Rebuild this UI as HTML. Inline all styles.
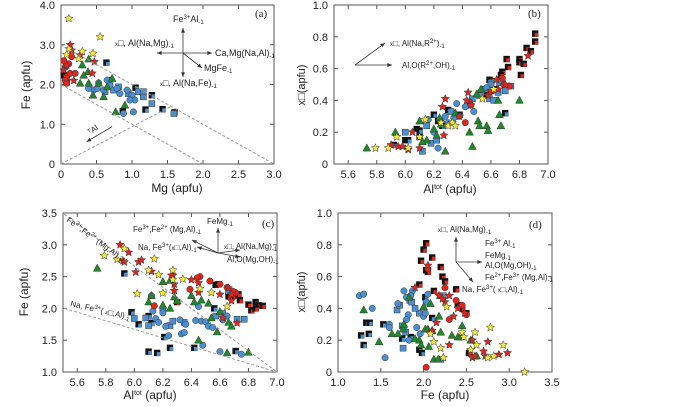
<!DOCTYPE html>
<html><head><meta charset="utf-8"><style>
body{margin:0;background:#fff;width:700px;height:402px;overflow:hidden}
svg{font-family:"Liberation Sans",sans-serif}
</style></head><body>
<svg id="c" width="700" height="402"></svg>
<script>
// ---------- DATA (panel a: Mg vs Fe) ----------
const aYellowStar=[[0.11,3.66],[0.55,3.2],[0.11,2.9],[0.08,2.75],[0.3,2.83],[0.45,2.78],[0.25,2.65]];
const aRedStar=[[0.13,3.0],[0.15,2.86],[0.27,2.74],[0.47,2.57],[0.04,2.36],[0.44,2.28],[0.18,2.1],[0.08,2.48]];
const aRedCircle=[[0.06,2.44],[0.11,2.52],[0.08,2.19],[0.06,2.1],[0.13,2.28],[0.15,2.7],[0.04,2.6],[0.08,2.03],[0.2,2.28]];
const aGreen=[[0.39,2.64],[0.3,2.49],[0.38,2.32],[0.27,2.03],[0.39,2.03],[0.45,1.73],[0.6,1.69],[0.72,2.15],[0.65,1.94],[0.77,1.31],[0.9,1.48],[0.53,2.03],[0.32,2.23]];
const aBlueCircle=[[0.53,2.04],[0.46,1.86],[0.39,1.9],[0.6,1.86],[0.69,1.98],[0.79,1.9],[0.93,1.86],[1.0,1.73],[1.04,1.61],[0.97,1.61],[1.02,1.31],[0.88,1.27],[0.83,1.77],[0.65,2.11],[0.51,1.9]];
const aBlueSquare=[[0.62,1.82],[0.74,1.86],[0.81,1.94],[0.95,1.77],[1.09,1.82],[1.16,1.69],[1.28,1.52],[1.59,1.27],[1.16,1.82]];
const aBlackBlue=[[0.64,2.55],[0.69,2.11],[1.05,1.92],[1.28,1.73],[1.19,1.37],[1.43,1.38],[1.6,1.3],[0.87,1.33],[0.04,2.23],[0.08,2.05]];
// ---------- panel b: Al tot vs xVac ----------
const bGreen=[[5.73,.1],[5.93,.2],[6.1,.27],[6.15,.15],[6.2,.22],[6.22,.18],[6.25,.25],[6.28,.08],[6.35,.32],[6.45,.2],[6.47,.11],[6.5,.44],[6.51,.27],[6.52,.24],[6.57,.24],[6.58,.21],[6.65,.4],[6.66,.31],[6.67,.24],[6.8,.4],[6.53,.47],[6.12,.14],[6.24,.29]];
const bYellowStar=[[5.79,.1],[5.88,.1],[5.94,.17],[6.02,.1],[6.1,.17],[6.14,.28],[6.25,.26],[6.3,.24],[6.33,.26],[6.35,.24],[6.54,.41],[6.62,.47]];
const bRedStar=[[5.9,.12],[5.95,.11],[5.98,.11],[6.02,.09],[6.05,.2],[6.1,.1],[6.26,.36],[6.28,.41],[6.27,.18],[6.44,.45],[6.43,.4],[6.46,.37],[6.58,.43],[6.64,.53],[6.7,.5],[6.86,.68],[6.65,.47],[6.38,.3],[6.6,.46]];
const bRedCircle=[[6.42,.26],[6.45,.39],[6.68,.54],[6.69,.5],[6.73,.49],[6.61,.46]];
const bBlueCircle=[[6.16,.28],[6.23,.1],[6.25,.27],[6.28,.3],[6.3,.26],[6.34,.29],[6.36,.38],[6.42,.36],[6.46,.37],[6.48,.33],[6.38,.3],[6.2,.2],[6.6,.5],[6.57,.48]];
const bBlueSquare=[[6.0,.2],[6.12,.08],[6.15,.24],[6.18,.13],[6.22,.15],[6.32,.33],[6.47,.41],[6.52,.43],[6.56,.47],[6.59,.41],[6.62,.4],[6.65,.45],[6.7,.46],[6.74,.49],[6.66,.51],[6.6,.51]];
const bBlackRed=[[6.68,.58],[6.72,.61],[6.71,.66],[6.8,.66],[6.8,.64],[6.83,.63],[6.81,.56],[6.85,.73],[6.88,.71],[6.91,.82],[6.91,.77],[6.59,.53],[6.67,.56],[6.63,.47]];
const bBlackBlue=[[5.92,.12],[6.0,.15],[6.02,.15],[6.08,.22],[6.1,.21],[6.1,.17],[6.2,.31],[6.23,.27],[6.26,.24],[6.3,.34],[6.38,.31],[6.55,.47],[6.57,.44],[6.7,.32]];
// ---------- panel c: Al tot vs Fe ----------
const cYellowStar=[[5.79,2.83],[5.88,2.77],[5.93,2.94],[6.02,2.23],[6.1,2.6],[6.14,2.78],[6.17,2.53],[6.2,2.24],[6.27,2.6],[6.27,2.45],[6.34,2.46],[6.54,2.25],[6.65,2.03],[6.46,2.31]];
const cRedStar=[[5.9,3.0],[5.96,2.88],[5.92,2.75],[5.93,2.73],[6.01,2.57],[6.03,2.73],[6.05,2.76],[6.12,2.58],[6.27,2.52],[6.28,2.38],[6.28,2.28],[6.4,2.45],[6.45,2.25],[6.45,2.4],[6.6,2.22],[6.62,1.85],[6.68,2.12],[6.72,1.77],[6.66,2.32],[6.68,2.22],[6.26,2.52]];
const cRedCircle=[[6.46,2.5],[6.44,2.48],[6.53,2.43],[6.39,2.3],[6.65,2.33],[6.71,2.25],[6.69,2.27],[6.14,2.04],[6.6,2.38]];
const cGreen=[[5.74,2.63],[6.12,2.2],[6.1,2.1],[6.2,2.05],[6.2,2.42],[6.25,2.44],[6.28,2.18],[6.3,2.12],[6.4,2.2],[6.42,2.1],[6.47,2.13],[6.52,2.08],[6.54,1.85],[6.58,1.63],[6.6,1.95],[6.66,1.78],[6.45,1.5],[6.65,1.3],[6.8,1.31],[6.68,1.72],[6.25,2.0]];
const cBlueCircle=[[6.12,2.2],[6.13,1.96],[6.15,1.84],[6.17,1.78],[6.2,1.93],[6.22,1.72],[6.24,1.57],[6.32,1.82],[6.33,1.6],[6.35,1.62],[6.36,1.75],[6.43,1.81],[6.47,1.8],[6.5,1.79],[6.48,1.42],[6.52,1.72],[6.55,1.7],[6.62,1.82],[6.6,1.32],[6.65,1.88],[6.75,1.28],[6.45,2.03]];
const cBlueSquare=[[6.0,1.84],[6.08,1.85],[6.1,1.73],[6.25,1.73],[6.27,1.8],[6.35,1.78],[6.62,1.92],[6.66,2.27],[6.72,1.83],[6.77,1.83],[6.2,1.97],[6.57,1.88]];
const cBlackBlue=[[5.93,2.55],[5.98,1.94],[6.03,1.75],[6.1,1.88],[6.12,1.77],[6.16,1.3],[6.21,1.55],[6.25,1.38],[6.1,1.32],[6.42,1.38],[6.71,1.33],[6.56,2.0]];
const cBlackRed=[[6.57,2.37],[6.59,2.38],[6.66,2.19],[6.7,2.2],[6.73,2.22],[6.74,2.13],[6.8,2.06],[6.82,1.97],[6.85,2.1],[6.87,2.05],[6.9,2.04],[6.85,2.0],[6.3,2.1]];
// ---------- panel d: Fe vs xVac ----------
const dBlueCircle=[[1.25,.48],[1.3,.49],[1.4,.4],[1.55,.09],[1.6,.3],[1.6,.28],[1.7,.43],[1.77,.51],[1.8,.47],[1.82,.36],[1.8,.33],[1.83,.2],[1.87,.51],[1.92,.28],[1.96,.24],[2.0,.35],[2.02,.37],[2.03,.44],[2.05,.49],[1.85,.48]];
const dBlueSquare=[[1.69,.39],[1.72,.42],[1.75,.29],[1.77,.27],[1.79,.25],[1.84,.45],[1.86,.44],[1.95,.37],[2.2,.08],[2.23,.48],[1.9,.4],[1.76,.15]];
const dBlackBlue=[[1.27,.23],[1.3,.17],[1.33,.31],[1.37,.31],[1.36,.24],[1.53,.3],[1.75,.21],[1.95,.14],[1.98,.12],[2.02,.47],[2.1,.34],[1.85,.22]];
const dGreen=[[1.3,.39],[1.48,.19],[1.63,.24],[1.7,.24],[1.76,.27],[1.77,.3],[1.83,.47],[1.9,.21],[1.95,.2],[1.97,.17],[2.0,.41],[2.02,.27],[2.05,.27],[2.06,.16],[2.08,.43],[2.1,.26],[2.12,.08],[2.18,.35],[2.2,.25],[2.33,.23],[2.4,.22],[2.45,.29],[2.43,.22],[2.55,.2],[2.62,.1],[2.17,.08]];
const dRedStar=[[1.9,.53],[2.05,.67],[2.1,.26],[2.18,.48],[2.15,.31],[2.25,.44],[2.3,.48],[2.3,.17],[2.35,.35],[2.4,.4],[2.48,.37],[2.57,.2],[2.57,.09],[2.6,.1],[2.7,.13],[2.72,.1],[2.75,.19],[2.88,.11],[2.98,.12],[2.22,.46]];
const dRedCircle=[[2.03,.03],[2.05,.65],[2.25,.53],[2.3,.33],[2.45,.42],[2.5,.36],[2.38,.45],[2.08,.25]];
const dYellowStar=[[2.08,.24],[2.12,.19],[2.2,.15],[2.23,.09],[2.27,.41],[2.45,.25],[2.47,.22],[2.55,.14],[2.6,.25],[2.62,.17],[2.75,.09],[2.78,.28],[2.82,.1],[2.93,.17],[3.18,0]];
const dBlackRed=[[1.95,.55],[1.97,.7],[2.0,.77],[2.03,.81],[2.03,.64],[2.05,.63],[2.1,.72],[2.12,.51],[2.2,.66],[2.22,.6],[2.2,.48],[2.38,.52],[2.4,.42],[2.45,.4],[2.5,.37],[2.53,.12],[2.25,.57]];
// ticks
const aXTicks=["0","0.5","1.0","1.5","2.0","2.5","3.0"], aYTicks=["0","1.0","2.0","3.0","4.0"];
const bXTicks=["5.6","5.8","6.0","6.2","6.4","6.6","6.8","7.0"], bYTicks=["0","0.2","0.4","0.6","0.8","1.0"];
const cXTicks=bXTicks, cYTicks=["1.0","1.5","2.0","2.5","3.0","3.5"];
const dXTicks=["1.0","1.5","2.0","2.5","3.0","3.5"], dYTicks=bYTicks;

const NS="http://www.w3.org/2000/svg", svg=document.getElementById('c');
function el(t,a,p){const e=document.createElementNS(NS,t);for(const k in a)e.setAttribute(k,a[k]);(p||svg).appendChild(e);return e;}
const COL={blue:"#4a8fd0",red:"#e0261e",yellow:"#f6e83a",green:"#21882a"};
function panel(name,L,R,T,B,x0,x1,y0,y1,xt,yt){
  const g=el('g',{});
  
  
  const sx=v=>L+(v-x0)/(x1-x0)*(R-L), sy=v=>B-(v-y0)/(y1-y0)*(B-T);
  const fr=el('rect',{x:L,y:T,width:R-L,height:B-T,fill:'none',stroke:'#555','stroke-width':1},g);
  
  
  xt.forEach(t=>{const v=+t,x=sx(v);
    el('line',{x1:x,x2:x,y1:B,y2:B-4,stroke:'#555'},g);el('line',{x1:x,x2:x,y1:T,y2:T+4,stroke:'#555'},g);
    const tx=el('text',{x:x,y:B+14,'font-size':11,'text-anchor':'middle',fill:'#222'},g);tx.textContent=t;
    
    });
  yt.forEach(t=>{const v=+t,y=sy(v);
    el('line',{x1:L,x2:L+4,y1:y,y2:y,stroke:'#555'},g);el('line',{x1:R,x2:R-4,y1:y,y2:y,stroke:'#555'},g);
    const tx=el('text',{x:L-6,y:y+4,'font-size':11,'text-anchor':'end',fill:'#222'},g);tx.textContent=t;
    
    });
  return {g,sx,sy};
}
function star(cx,cy,r){let p=[];for(let i=0;i<10;i++){const a=-Math.PI/2+i*Math.PI/5,rr=i%2?r*0.45:r;p.push((cx+rr*Math.cos(a)).toFixed(1)+','+(cy+rr*Math.sin(a)).toFixed(1));}return p.join(' ');}
function series(P,data,type,col,nm){
  data.forEach(d=>{const x=P.sx(d[0]),y=P.sy(d[1]);let m;
    if(type==='circle')m=el('circle',{cx:x,cy:y,r:3.2,fill:COL[col],stroke:'#333','stroke-width':0.5},P.g);
    else if(type==='square')m=el('rect',{x:x-3,y:y-3,width:6,height:6,fill:COL[col],stroke:'#333','stroke-width':0.5},P.g);
    else if(type==='tri')m=el('polygon',{points:`${x},${y-4.2} ${x-3.9},${y+3} ${x+3.9},${y+3}`,fill:COL[col],stroke:'#333','stroke-width':0.5},P.g);
    else if(type==='star')m=el('polygon',{points:star(x,y,4.3),fill:COL[col],stroke:'#333','stroke-width':0.5},P.g);
    else {m=el('g',{},P.g);el('rect',{x:x-3.2,y:y-3.2,width:6.4,height:6.4,fill:'#111'},m);el('rect',{x:x-0.4,y:y-0.8,width:3.4,height:3.8,fill:COL[col]},m);}
    
    });
}
function txt(x,y,s,sz,attrs,nm){const t=el('text',Object.assign({x:x,y:y,'font-size':sz||9,fill:'#222'},attrs||{}));t.innerHTML=s;
  
  return t;}
function arrow(x1,y1,x2,y2,dash){const l=el('line',{x1,y1,x2,y2,stroke:dash?'#999':'#333','stroke-width':dash?1:0.8,'stroke-dasharray':dash?'3,2':'none'});
  
  
  if(!dash){const a=Math.atan2(y2-y1,x2-x1),h=5;el('polygon',{points:`${x2},${y2} ${x2-h*Math.cos(a-0.4)},${y2-h*Math.sin(a-0.4)} ${x2-h*Math.cos(a+0.4)},${y2-h*Math.sin(a+0.4)}`,fill:'#333'});}}
function allSeries(P,s){
  if(s.blackBlue)series(P,s.blackBlue,'bk','blue','black-blue-square');
  if(s.blackRed)series(P,s.blackRed,'bk','red','black-red-square');
  if(s.blueSquare)series(P,s.blueSquare,'square','blue','blue-square');
  if(s.blueCircle)series(P,s.blueCircle,'circle','blue','blue-circle');
  if(s.green)series(P,s.green,'tri','green','green-triangle');
  if(s.redCircle)series(P,s.redCircle,'circle','red','red-circle');
  if(s.redStar)series(P,s.redStar,'star','red','red-star');
  if(s.yellowStar)series(P,s.yellowStar,'star','yellow','yellow-star');
}
// Panel a
const A=panel('panel-a',61,274,5,164,0,3,0,4,aXTicks,aYTicks);
arrow(A.sx(0),A.sy(3),A.sx(3),A.sy(0),1);arrow(A.sx(0),A.sy(2),A.sx(2),A.sy(0),1);arrow(A.sx(0),A.sy(0),A.sx(1.55),A.sy(1.45),1);
arrow(A.sx(0.72),A.sy(0.94),A.sx(0.36),A.sy(0.56));
txt(90,135,'ᵀAl',8,{transform:'rotate(-35 90 135)'});
allSeries(A,{blackBlue:aBlackBlue,blueSquare:aBlueSquare,blueCircle:aBlueCircle,green:aGreen,redCircle:aRedCircle,redStar:aRedStar,yellowStar:aYellowStar});
arrow(183,53,183,28);arrow(183,53,183,77);arrow(183,53,157,53);arrow(183,53,212,53);arrow(183,53,202,68);
txt(173,22,'Fe<tspan font-size="6" dy="-3">3+</tspan><tspan dy="3">Al</tspan><tspan font-size="6" dy="2">-1</tspan>',9);
txt(115,46,'<tspan font-size="6">x</tspan>□, Al(Na,Mg)<tspan font-size="6" dy="2">-1</tspan>',9);
txt(215,56,'Ca,Mg(Na,Al)<tspan font-size="6" dy="2">-1</tspan>',9);
txt(204,71,'MgFe<tspan font-size="6" dy="2">-1</tspan>',9);
txt(160,86,'<tspan font-size="6">x</tspan>□, Al(Na,Fe)<tspan font-size="6" dy="2">-1</tspan>',9);
txt(255,17,'(a)',11,{'font-family':'Liberation Serif'},'panel-label');
txt(177,192,'Mg (apfu)',12,{'text-anchor':'middle'},'x-axis-title');
txt(30,85,'Fe (apfu)',12,{'text-anchor':'middle',transform:'rotate(-90 30 85)'},'y-axis-title');
// Panel b
const Bp=panel('panel-b',334,548,5,164,5.5,7.0,0,1,bXTicks,bYTicks);
allSeries(Bp,{blackBlue:bBlackBlue,blackRed:bBlackRed,blueSquare:bBlueSquare,blueCircle:bBlueCircle,green:bGreen,redCircle:bRedCircle,redStar:bRedStar,yellowStar:bYellowStar});
arrow(355,65,385,43);arrow(355,65,392,65);
txt(390,46,'<tspan font-size="6">x</tspan>□, Al(Na,R<tspan font-size="6" dy="-3">2+</tspan><tspan dy="3">)</tspan><tspan font-size="6" dy="2">-1</tspan>',8);
txt(402,68,'Al,O(R<tspan font-size="6" dy="-3">2+</tspan><tspan dy="3">,OH)</tspan><tspan font-size="6" dy="2">-1</tspan>',8);
txt(528,17,'(b)',11,{'font-family':'Liberation Serif'},'panel-label');
txt(450,193,'Al<tspan font-size="7" dy="-4">tot</tspan><tspan dy="4"> (apfu)</tspan>',12,{'text-anchor':'middle'},'x-axis-title');
txt(305,85,'x□(apfu)',11,{'text-anchor':'middle',transform:'rotate(-90 305 85)'},'y-axis-title');
// Panel c
const Cp=panel('panel-c',63,277,213,372,5.5,7.0,1.0,3.5,cXTicks,cYTicks);
arrow(Cp.sx(5.51),Cp.sy(3.48),Cp.sx(7.0),Cp.sy(1.0),1);arrow(Cp.sx(5.51),Cp.sy(2.0),Cp.sx(7.0),Cp.sy(1.0),1);
txt(66,221,'Fe<tspan font-size="6" dy="-3">3+</tspan><tspan dy="3">,Fe</tspan><tspan font-size="6" dy="-3">2+</tspan><tspan dy="3"> (Mg,Al)</tspan><tspan font-size="6" dy="2">-1</tspan>',8,{transform:'rotate(36 66 221)'});
txt(70,306,'Na, Fe<tspan font-size="6" dy="-3">3+</tspan><tspan dy="3">( </tspan><tspan font-size="6">x</tspan>□,Al)<tspan font-size="6" dy="2">-1</tspan>',8,{transform:'rotate(13 70 306)'});
allSeries(Cp,{blackBlue:cBlackBlue,blackRed:cBlackRed,blueSquare:cBlueSquare,blueCircle:cBlueCircle,green:cGreen,redCircle:cRedCircle,redStar:cRedStar,yellowStar:cYellowStar});
arrow(218,253,218,228);arrow(218,253,192,240);arrow(218,253,197,247);arrow(218,253,240,250);arrow(218,253,240,257);
txt(207,224,'FeMg<tspan font-size="6" dy="2">-1</tspan>',8);
txt(133,232,'Fe<tspan font-size="6" dy="-3">3+</tspan><tspan dy="3">,Fe</tspan><tspan font-size="6" dy="-3">2+</tspan><tspan dy="3"> (Mg,Al)</tspan><tspan font-size="6" dy="2">-1</tspan>',8);
txt(138,250,'Na, Fe<tspan font-size="6" dy="-3">3+</tspan><tspan dy="3">(</tspan><tspan font-size="6">x</tspan>□,Al)<tspan font-size="6" dy="2">-1</tspan>',8);
txt(224,249,'<tspan font-size="6">x</tspan>□, Al(Na,Mg)<tspan font-size="6" dy="2">-1</tspan>',8);
txt(227,262,'Al,O(Mg,OH)<tspan font-size="6" dy="2">-1</tspan>',8);
txt(262,227,'(c)',11,{'font-family':'Liberation Serif'},'panel-label');
txt(150,399,'Al<tspan font-size="7" dy="-4">tot</tspan><tspan dy="4"> (apfu)</tspan>',12,{'text-anchor':'middle'},'x-axis-title');
txt(28,292,'Fe (apfu)',12,{'text-anchor':'middle',transform:'rotate(-90 28 292)'},'y-axis-title');
// Panel d
const Dp=panel('panel-d',338,552,213,372,1.0,3.5,0,1,dXTicks,dYTicks);
allSeries(Dp,{blackBlue:dBlackBlue,blackRed:dBlackRed,blueSquare:dBlueSquare,blueCircle:dBlueCircle,green:dGreen,redCircle:dRedCircle,redStar:dRedStar,yellowStar:dYellowStar});
arrow(456,262,456,237);arrow(456,262,482,262);arrow(456,262,473,282);
txt(438,232,'<tspan font-size="6">x</tspan>□, Al(Na,Mg)<tspan font-size="6" dy="2">-1</tspan>',8);
txt(485,246,'Fe<tspan font-size="6" dy="-3">3+</tspan><tspan dy="3"> Al</tspan><tspan font-size="6" dy="2">-1</tspan>',8);
txt(485,258,'FeMg<tspan font-size="6" dy="2">-1</tspan>',8);
txt(485,268,'Al,O(Mg,OH)<tspan font-size="6" dy="2">-1</tspan>',8);
txt(485,280,'Fe<tspan font-size="6" dy="-3">2+</tspan><tspan dy="3">,Fe</tspan><tspan font-size="6" dy="-3">3+</tspan><tspan dy="3"> (Mg,Al)</tspan><tspan font-size="6" dy="2">-1</tspan>',8);
txt(462,292,'Na, Fe<tspan font-size="6" dy="-3">3+</tspan><tspan dy="3">( </tspan><tspan font-size="6">x</tspan>□,Al)<tspan font-size="6" dy="2">-1</tspan>',8);
txt(529,228,'(d)',11,{'font-family':'Liberation Serif'},'panel-label');
txt(445,399,'Fe (apfu)',12,{'text-anchor':'middle'},'x-axis-title');
txt(305,292,'x□(apfu)',11,{'text-anchor':'middle',transform:'rotate(-90 305 292)'},'y-axis-title');
</script>
</body></html>
